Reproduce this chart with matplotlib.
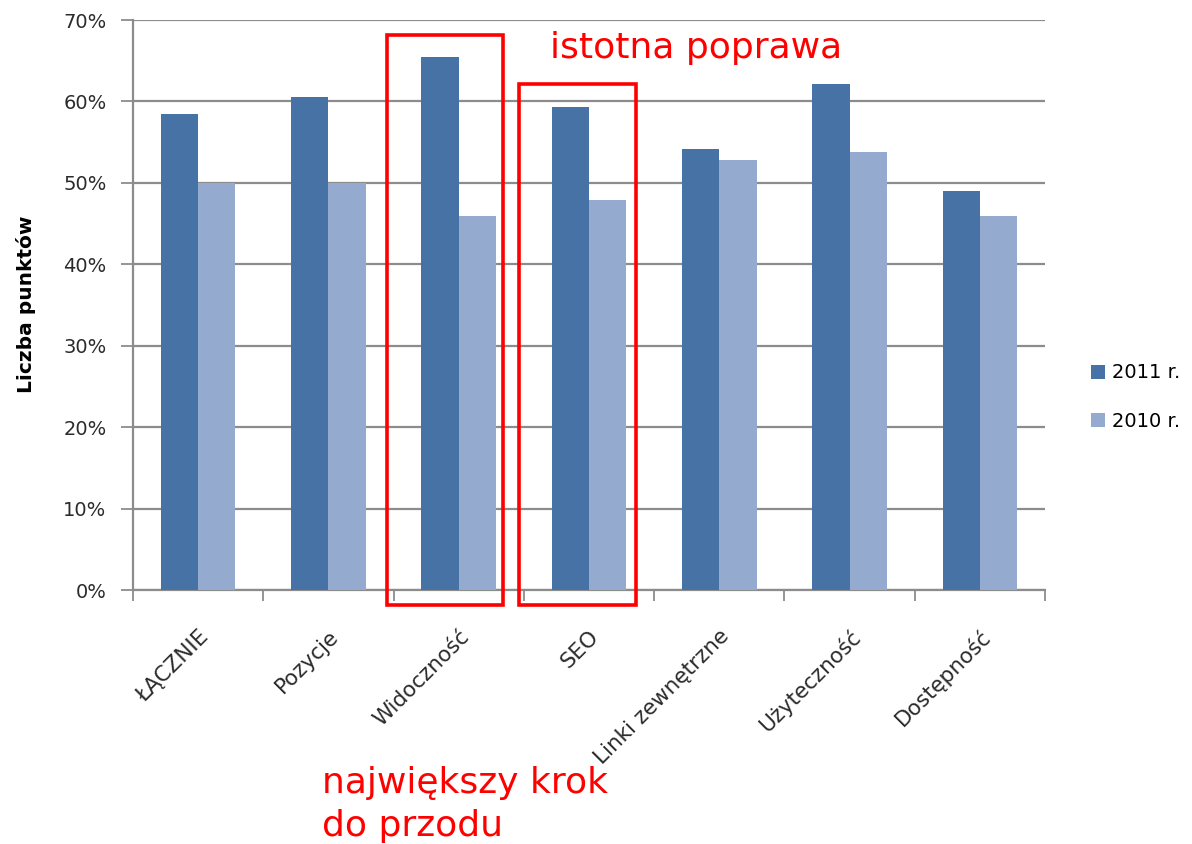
import numpy as np
import matplotlib
matplotlib.use("Agg")
import matplotlib.pyplot as plt
from matplotlib.patches import Rectangle

# dane z wykresu
kategorie = ["ŁĄCZNIE", "Pozycje", "Widoczność", "SEO",
             "Linki zewnętrzne", "Użyteczność", "Dostępność"]
wyniki_2011 = [58.5, 60.6, 65.4, 59.3, 54.1, 62.1, 49.0]
wyniki_2010 = [50.0, 50.0, 45.9, 47.9, 52.8, 53.8, 45.9]
yticks = [0, 10, 20, 30, 40, 50, 60, 70]

kolor_2011 = "#4672A6"
kolor_2010 = "#95AACF"
czerwony = "#FF0000"
szary = "#8C8C8C"

fig = plt.figure(figsize=(11.92, 8.44), dpi=100)
ax = fig.add_axes([133/1192, 1 - 590/844, 912/1192, 570/844])

x = np.arange(len(kategorie))
w = 1 / 3.5
ax.bar(x - w/2, wyniki_2011, w, color=kolor_2011, label="2011 r.", zorder=3)
ax.bar(x + w/2, wyniki_2010, w, color=kolor_2010, label="2010 r.", zorder=3)

ax.set_xlim(-0.5, len(kategorie) - 0.5)
ax.set_ylim(0, 70)
ax.set_yticks(yticks)
ax.set_yticklabels([f"{t}%" for t in yticks], fontsize=14, color="#2b2b2b")
ax.yaxis.grid(True, color=szary, linewidth=1.6, zorder=0)

# ticki osi x na granicach kategorii
ax.set_xticks(np.arange(len(kategorie) + 1) - 0.5)
ax.set_xticklabels([])
ax.set_xticks(x, minor=True)
ax.set_xticklabels(kategorie, minor=True, rotation=45, ha="right",
                   rotation_mode="anchor", fontsize=15.5, color="#2b2b2b")
ax.tick_params(axis="x", which="minor", length=0, pad=26)
ax.tick_params(axis="x", which="major", length=8, color=szary, width=1.3)
ax.tick_params(axis="y", length=9, color=szary, width=1.3, pad=10)

for s in ["top", "right"]:
    ax.spines[s].set_visible(False)
for s in ["left", "bottom"]:
    ax.spines[s].set_color(szary)
    ax.spines[s].set_linewidth(1.6)

fig.text(26/1192, 1 - 304/844, "Liczba punktów", rotation=90, fontsize=14.5,
         fontweight="bold", ha="center", va="center")

ax.legend(loc="center left", bbox_to_anchor=(1073/1192, 1 - 397/844),
          bbox_transform=fig.transFigure, frameon=False, fontsize=14,
          handlelength=0.75, handleheight=0.75, handletextpad=0.35,
          labelspacing=1.5)

# czerwone ramki
ax.add_patch(Rectangle((1.449, -1.84), 0.89, 70.0, fill=False,
                       edgecolor=czerwony, linewidth=2.6, clip_on=False, zorder=5))
ax.add_patch(Rectangle((2.462, -1.84), 0.898, 64.0, fill=False,
                       edgecolor=czerwony, linewidth=2.6, clip_on=False, zorder=5))

fig.text(550/1192, 1 - 48/844, "istotna poprawa", color=czerwony,
         fontsize=26, ha="left", va="center")
fig.text(322/1192, 1 - 783/844, "największy krok", color=czerwony,
         fontsize=26, ha="left", va="center")
fig.text(322/1192, 1 - 826/844, "do przodu", color=czerwony,
         fontsize=26, ha="left", va="center")

fig.savefig("out.png", dpi=100)
